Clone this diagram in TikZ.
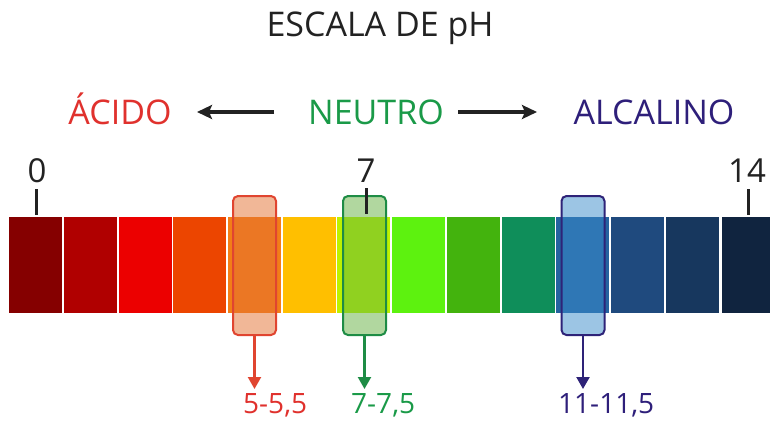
\documentclass[tikz,border=0pt]{standalone}
\usepackage{fontspec}
\setmainfont{Open Sans}
\usetikzlibrary{arrows.meta}
\definecolor{cA}{HTML}{850000}
\definecolor{cB}{HTML}{B00000}
\definecolor{cC}{HTML}{EC0000}
\definecolor{cD}{HTML}{EC4500}
\definecolor{cE}{HTML}{F27E18}
\definecolor{cF}{HTML}{FFBF00}
\definecolor{cG}{HTML}{BDF200}
\definecolor{cH}{HTML}{5DF20F}
\definecolor{cI}{HTML}{43B30D}
\definecolor{cJ}{HTML}{0F8E5A}
\definecolor{cK}{HTML}{2563A0}
\definecolor{cL}{HTML}{1F4A7E}
\definecolor{cM}{HTML}{17375E}
\definecolor{cN}{HTML}{10243F}
\definecolor{txtred}{HTML}{E0312D}
\definecolor{txtgreen}{HTML}{1A9A48}
\definecolor{txtnavy}{HTML}{2E1F7A}
\definecolor{boxred}{HTML}{E04530}
\definecolor{boxgreen}{HTML}{1E8C45}
\definecolor{boxnavy}{HTML}{2E2378}
\definecolor{fillred}{HTML}{E57131}
\definecolor{fillgreen}{HTML}{65B141}
\definecolor{fillblue}{HTML}{3A8CCB}
\definecolor{ink}{HTML}{222222}
\begin{document}
\begin{tikzpicture}[x=1pt,y=-1pt,
  bigtxt/.style={inner sep=0pt,anchor=base,font=\fontsize{34}{38}\selectfont},
  numtxt/.style={inner sep=0pt,anchor=base,font=\fontsize{33}{36}\selectfont,text=ink},
  rangetxt/.style={inner sep=0pt,anchor=base west,font=\fontsize{28}{32}\selectfont},
  seg/.style={inner sep=0pt,minimum height=96pt,anchor=north west},
  hlbox/.style={inner sep=0pt,minimum width=43pt,minimum height=139pt,rounded corners=5pt,line width=2pt,fill opacity=0.5,draw opacity=1},
  dirarrow/.style={-{Stealth[length=15pt,width=14pt,inset=3pt]},line width=3.2pt,draw=ink},
  downarrow/.style={-{Triangle[length=12pt,width=13pt]},line width=2.2pt},
  tick/.style={line width=3pt,draw=ink}]
\useasboundingbox (0,0) rectangle (770,420);
\fill[white] (0,0) rectangle (770,420);
% title
\node[bigtxt,text=ink] (title) at (380,37) {ESCALA DE pH};
% direction row
\node[bigtxt,text=txtred] (acid) at (120,124) {ÁCIDO};
\node[bigtxt,text=txtgreen] (neutro) at (376,124) {NEUTRO};
\node[bigtxt,text=txtnavy] (alcal) at (654,124) {ALCALINO};
\coordinate (la) at (274,112);
\coordinate (lb) at (197,112);
\coordinate (ra) at (458,112);
\coordinate (rb) at (537,112);
\draw[dirarrow] (la) -- (lb);
\draw[dirarrow] (ra) -- (rb);
% scale segments
\foreach \c [count=\i from 0] in {cA,cB,cC,cD,cE,cF,cG,cH,cI,cJ,cK,cL,cM} {
  \node[seg,fill=\c,minimum width=53pt] (s\i) at ({9+54.7*\i},217) {};
}
\node[seg,fill=cN,minimum width=48pt] (s13) at (722,217) {};
% ticks and numbers
\node[numtxt] (n0) at (37,182) {0};
\node[numtxt] (n7) at (366,182) {7};
\node[numtxt] (n14) at (747,182) {14};
\coordinate (t0a) at (36,189); \coordinate (t0b) at (36,215);
\coordinate (t7a) at (366,188); \coordinate (t7b) at (366,214);
\coordinate (t14a) at (748,189); \coordinate (t14b) at (748,215);
\draw[tick] (t0a) -- (t0b);
\draw[tick] (t14a) -- (t14b);
% highlight boxes
\node[hlbox,draw=boxred,fill=fillred] (bred) at (254.5,265.5) {};
\node[hlbox,draw=boxgreen,fill=fillgreen] (bgreen) at (364.5,265.5) {};
\draw[tick] (t7a) -- (t7b);
\node[hlbox,draw=boxnavy,fill=fillblue] (bblue) at (583,265.5) {};
% range labels
\node[rangetxt,text=txtred] (lred) at (243,413) {5-5,5};
\node[rangetxt,text=txtgreen] (lgreen) at (351,413) {7-7,5};
\node[rangetxt,text=txtnavy] (lblue) at (558,413) {11-11,5};
\coordinate (ared) at (254.5,389);
\coordinate (agreen) at (364.5,389);
\coordinate (ablue) at (583,389);
\draw[downarrow,draw=boxred,fill=boxred] (bred.south) -- (ared);
\draw[downarrow,draw=boxgreen,fill=boxgreen] (bgreen.south) -- (agreen);
\draw[downarrow,draw=boxnavy,fill=boxnavy] (bblue.south) -- (ablue);
\end{tikzpicture}
\end{document}
